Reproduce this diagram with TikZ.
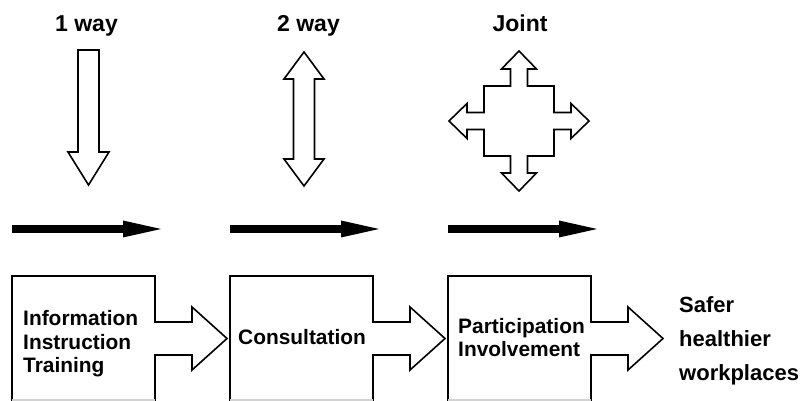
\documentclass[tikz,border=0pt]{standalone}
\usepackage{fontspec}
\setmainfont{Liberation Sans}
\usetikzlibrary{arrows.meta}

\newcommand{\cellfont}{\fontsize{20.9}{23.5}\selectfont\bfseries}
\newcommand{\headfont}{\fontsize{22}{34}\selectfont\bfseries}
\newcommand{\topfont}{\fontsize{23}{27}\selectfont\bfseries}

\begin{document}
\begin{tikzpicture}[
  x=1pt, y=-1pt,
  outline/.style={draw, line width=1.6pt, line join=miter, fill=white},
  flow/.style={line width=8pt, -{Triangle[length=38pt, width=17pt, line width=0pt]}},
  boxtext/.style={font=\cellfont, align=left, anchor=west, inner sep=2pt},
  title/.style={font=\topfont, anchor=base, inner sep=0pt},
]
\useasboundingbox (0,0) rectangle (812,401);

% Column titles.
\node[title] (oneway) at (86.5,32) {1 way};
\node[title] (twoway) at (308.5,32) {2 way};
\node[title] (joint)  at (520,32)  {Joint};

% One way: hollow arrow pointing down.
\draw[outline] (78,50) -- (99,50) -- (99,152) -- (109,152) -- (88.5,185)
  -- (68,152) -- (78,152) -- cycle;

% Two way: hollow double arrow.
\draw[outline] (304,52) -- (324,79) -- (314.5,79) -- (314.5,159) -- (324,159)
  -- (304,186) -- (284,159) -- (293.5,159) -- (293.5,79) -- (284,79) -- cycle;

% Joint: four-way arrow.
\begin{scope}[shift={(519,121)}]
\draw[outline] (0,-70) -- (17.5,-52) -- (8.5,-52) -- (8.5,-35) -- (35,-35)
  -- (35,-8.5) -- (52,-8.5) -- (52,-17.5) -- (70,0) -- (52,17.5) -- (52,8.5)
  -- (35,8.5) -- (35,35) -- (8.5,35) -- (8.5,52) -- (17.5,52) -- (0,70)
  -- (-17.5,52) -- (-8.5,52) -- (-8.5,35) -- (-35,35) -- (-35,8.5)
  -- (-52,8.5) -- (-52,17.5) -- (-70,0) -- (-52,-17.5) -- (-52,-8.5)
  -- (-35,-8.5) -- (-35,-35) -- (-8.5,-35) -- (-8.5,-52) -- (-17.5,-52) -- cycle;
\end{scope}

% Black flow arrows, one per column.
\foreach \x [count=\i] in {12,230,448} {
  \coordinate (flow\i a) at (\x,229);
  \coordinate (flow\i b) at (\x+149,229);
  \draw[flow] (flow\i a) -- (flow\i b);
}

% Boxes, each with a hollow arrow leading out to the right.
\foreach \x in {12,230,448} {
  \begin{scope}[shift={(\x,0)}]
  \draw[outline, fill=none] (0,401) -- (0,276) -- (143,276) -- (143,322)
    -- (180,322) -- (180,307) -- (215,338.5) -- (180,370) -- (180,355)
    -- (143,355) -- (143,401);
  \draw[gray!35, line width=1.2pt] (0,400) -- (143,400);
  \end{scope}
}

% Box texts.
\node[boxtext] (info)    at (21,344)    {Information\\Instruction\\Training};
\node[boxtext] (consult) at (236,337.5) {Consultation};
\node[boxtext] (partic)  at (456,337.5) {Participation\\Involvement};
\node[boxtext, font=\headfont] (goal) at (677,341) {Safer\\healthier\\workplaces};

\end{tikzpicture}
\end{document}
